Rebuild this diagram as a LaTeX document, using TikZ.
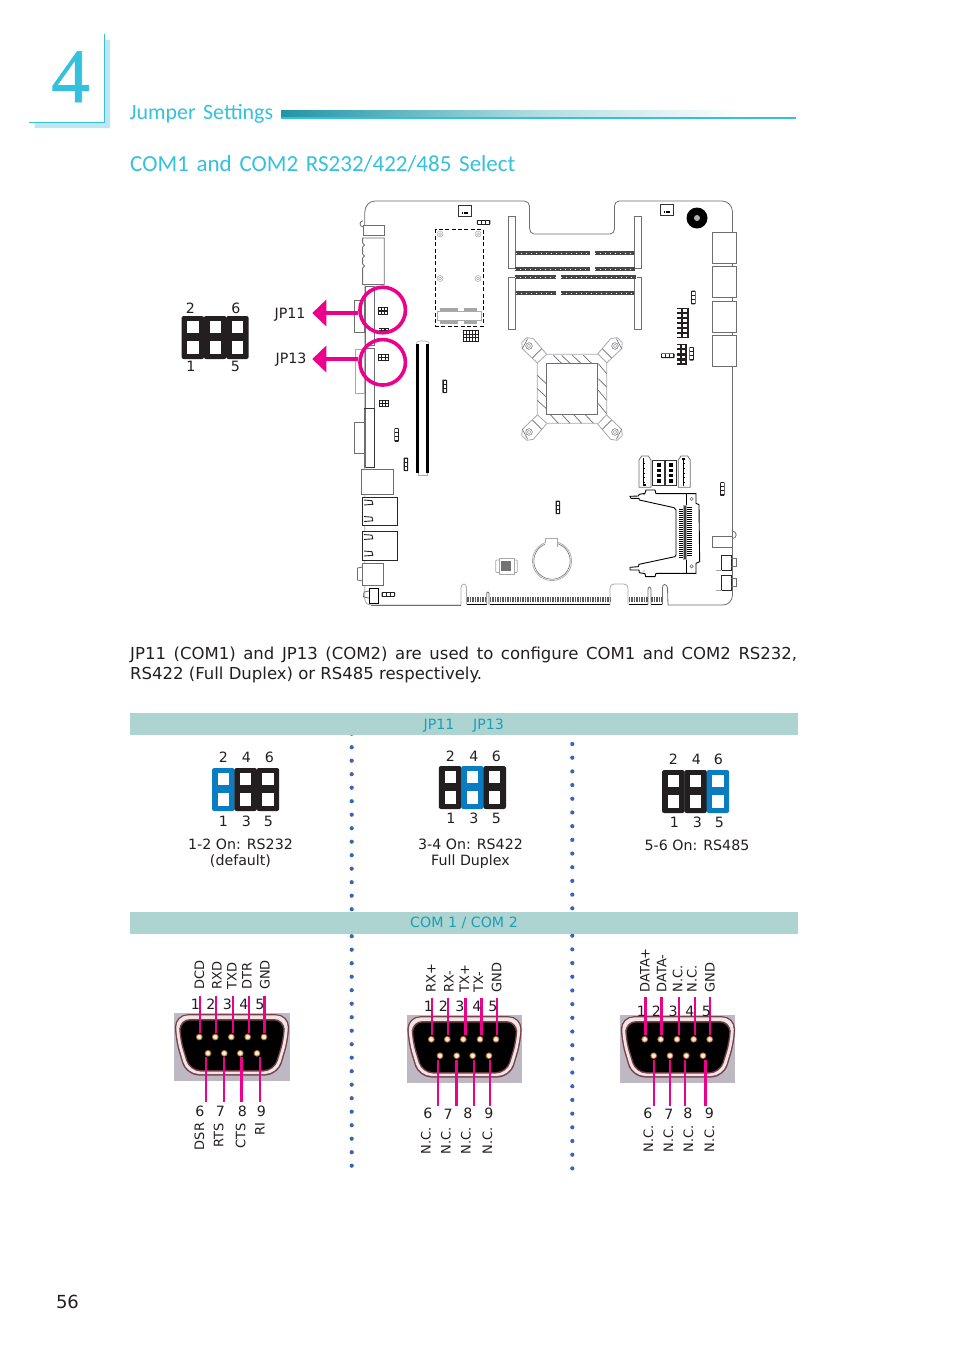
\documentclass[tikz,border=0pt]{standalone}
\usepackage{fontspec}
\setmainfont{DejaVu Sans}
\newfontfamily\gill[WordSpace=1.5]{Carlito}
\newfontfamily\four[FakeBold=0.8]{Liberation Serif}
\usetikzlibrary{arrows.meta}
\definecolor{ink}{HTML}{231F20}
\definecolor{cyanh}{HTML}{33C1DD}
\definecolor{cyanl}{HTML}{BFE6F1}
\definecolor{band}{HTML}{AED4D2}
\definecolor{bandt}{HTML}{1A9FB5}
\definecolor{pk}{HTML}{EC008C}
\definecolor{jblue}{HTML}{0A7DC2}
\definecolor{dotc}{HTML}{3A64B4}
\definecolor{bd}{HTML}{6D6E71}
\definecolor{bl}{HTML}{A7A9AC}
\definecolor{jk}{HTML}{231F20}
\definecolor{dbbg}{HTML}{BDB8C2}
\definecolor{dbrim}{HTML}{7A3F4C}
\definecolor{dblight}{HTML}{EDE6E4}
\tikzset{
 txt/.style={font=\fontsize{14.2}{16}\selectfont,text=ink,inner sep=0pt},
 rot/.style={font=\fontsize{13}{15}\selectfont,text=ink,inner sep=0pt,rotate=90},
 bandtxt/.style={font=\fontsize{14.2}{16}\selectfont,text=bandt,inner sep=0pt},
 pinkline/.style={draw=pk},
 ring/.style={circle,draw=pk,line width=3.6pt,minimum size=45.5pt,inner sep=0pt},
 pkarrow/.style={draw=pk,line width=4pt,-{Triangle[length=14pt,width=26pt]}},
 bo/.style={draw=bd,line width=0.8pt},
 bo2/.style={draw=bl,line width=0.8pt},
}
\newcommand{\jumper}[3]{% x y blue-index
 \foreach \k in {0,1,2}{
  \pgfmathtruncatemacro{\kk}{\k+1}
  \ifnum\kk=#3\def\jc{jblue}\else\def\jc{jk}\fi
  \fill[\jc,rounded corners=2.2pt] ({#1+\k*22.3},#2) rectangle ++(22.6,43);
  \fill[white] ({#1+\k*22.3+5.8},{#2+4.7}) rectangle ++(11.2,12.5);
  \fill[white] ({#1+\k*22.3+5.8},{#2+25.3}) rectangle ++(11.2,12.5);
 }}
\newcommand{\vj}[2]{% vertical 3-cell jumper
 \fill[jk,rounded corners=0.8pt] (#1,#2) rectangle ++(4.6,13.6);
 \foreach \k in {0,1,2}{\fill[white] ({#1+1.1},{#2+1.1+\k*4}) rectangle ++(2.4,3);}}
\newcommand{\hj}[2]{% horizontal 3-cell jumper
 \fill[jk,rounded corners=0.8pt] (#1,#2) rectangle ++(13.6,4.8);
 \foreach \k in {0,1,2}{\fill[white] ({#1+1.1+\k*4},{#2+1.1}) rectangle ++(3,2.6);}}
\newcommand{\grid}[6]{% x y w h cols rows : outlined grid
 \draw[jk,line width=0.9pt,fill=white] (#1,#2) rectangle ++(#3,#4);
 \pgfmathtruncatemacro{\cm}{#5-1}\pgfmathtruncatemacro{\rm}{#6-1}
 \foreach \c in {1,...,\cm}{\draw[jk,line width=0.9pt] ({#1+\c*#3/#5},#2) -- ++(0,#4);}
 \foreach \r in {1,...,\rm}{\draw[jk,line width=0.9pt] (#1,{#2+\r*#4/#6}) -- ++(#3,0);}}
\newcommand{\dgrid}[6]{% x y w h cols rows : black block, small white holes
 \fill[jk] (#1,#2) rectangle ++(#3,#4);
 \foreach \c in {1,...,#5}{\foreach \r in {1,...,#6}{
  \fill[white] ({#1+(\c-0.5)*#3/#5-0.42*#3/#5},{#2+(\r-0.5)*#4/#6-0.3*#4/#6}) rectangle ++({0.6*#3/#5},{0.5*#4/#6});}}}
\newcommand{\hatched}[4]{% x1 x2 y1 y2
 \fill[black!72] (#1,#3) rectangle (#2,#4);
 \draw[white,line width=0.5pt,dash pattern=on 0.6pt off 4.4pt] (#1,{(#3+#4)/2}) -- (#2,{(#3+#4)/2});}
\newcommand{\dbshell}[3]{% x y w
 \begin{scope}[shift={(#1,#2)}]
 \fill[dbbg] (0,0) rectangle (#3,68);
 \fill[dbrim,rounded corners=13pt] (0.7,1.2)--(115.3,1.2)--(115,26)--(104,62.5)--(12,62.5)--(1,26)--cycle;
 \fill[dblight,rounded corners=12pt] (2,2.4)--(114,2.4)--(113.5,26)--(103,61)--(13,61)--(2.5,26)--cycle;
 \fill[dbrim,rounded corners=11pt] (5,6)--(111,6)--(110.5,26)--(100.5,58.5)--(15.5,58.5)--(5.5,26)--cycle;
 \fill[black,rounded corners=10pt] (6.5,7.5)--(109.5,7.5)--(109,26)--(99.5,57)--(16.5,57)--(7,26)--cycle;
 \end{scope}}
\newcommand{\pin}[2]{%
 \fill[brown!80!black] (#1,#2) circle[radius=3.4];
 \fill[white!70!orange] (#1,#2) circle[radius=2.4];
 \fill[white] (#1,#2) circle[radius=1.2];}
\begin{document}
\begin{tikzpicture}[x=1pt,y=-1pt,line cap=butt]
\useasboundingbox (0,0) rectangle (954,1350);
\fill[white] (0,0) rectangle (954,1350);
% ---------- heading
\fill[cyanl] (34.7,122.4) -- (104.8,122.4) -- (104.8,40) -- (110,40) -- (110,128) -- (34.7,128) -- cycle;
\coordinate (fa) at (29,122); \coordinate (fb) at (104.6,122); \coordinate (fc) at (104.6,34);
\draw[cyanh,line width=0.9pt] (fa) -- (fb) -- (fc);
\node[inner sep=0pt,text=cyanh,font=\four\fontsize{77}{80}\selectfont,anchor=base] (chapno) at (70.5,102) {4};
\node[inner sep=0pt,text=cyanh,font=\gill\fontsize{21.9}{26}\selectfont,anchor=base west] (chapt) at (129.5,119) {Jumper Settings};
\shade[left color=black!20!cyanh!80!teal,right color=cyanh!25!band!70!white] (281,110) rectangle (540,117.5);
\shade[left color=cyanh!25!band!70!white,right color=white] (540,110) rectangle (745,117.5);
\fill[cyanh] (281,117.3) rectangle (796,119);
\node[inner sep=0pt,text=cyanh,font=\gill\fontsize{23}{26}\selectfont,anchor=base west] (sect) at (130,171.5) {COM1 and COM2 RS232/422/485 Select};
% ---------- board outline
\draw[bo] (364.8,226) -- (364.8,212) to[out=90,in=180] (375,201) -- (524,201) to[out=0,in=90] (529.5,206) -- (529.5,228) to[out=-90,in=180] (534,234) -- (610,234) to[out=0,in=-90] (614.5,229) -- (614.5,206) to[out=90,in=180] (619,201) -- (722,201) to[out=0,in=90] (732.5,212) -- (732.5,595) to[out=-90,in=0] (723,605) -- (668,605) -- (667.5,588) to[out=90,in=0] (664.5,584.5) to[out=180,in=90] (662.5,588) -- (662.5,604.5);
\draw[bl,line width=0.8pt] (364.8,285) -- (364.8,599) to[out=-90,in=180] (371,605) -- (461,605) -- (461,588) to[out=90,in=180] (464,584) to[out=0,in=90] (466.5,588) -- (466.5,604.5);
\draw[bd,line width=0.9pt] (371,605) -- (461,605);
% right rear connectors
\foreach \y in {232,266.3,301,335.5}{\draw[bo,fill=white] (712.3,\y) rectangle (736.5,{\y+31});}
% top fans etc
\foreach \x/\y in {458/205.5,660/204.5}{
 \draw[black!80,line width=0.9pt,fill=white] (\x,\y) rectangle ++(13.5,10.5);
 \foreach \d in {0,1,2}{\fill[black] ({\x+3.6+\d*2.4},{\y+6}) rectangle ++(1.6,2);}}
\hj{476.8}{220}
\fill[black] (697,218) circle[radius=10.5];
\fill[black!30] (697,218) circle[radius=3];
% dashed module
\draw[black,line width=0.8pt,dash pattern=on 4pt off 2.4pt] (435.7,229.3) rectangle (483.3,326);
\foreach \x/\y in {440/234,440/278.5,478/234,478/278.5}{
 \draw[bl,line width=0.5pt] (\x,\y) circle[radius=3]; \draw[bl,line width=0.5pt] (\x,\y) circle[radius=1.4];}
\draw[bo2] (437,311.5) rectangle (481,320);
\foreach \a/\b in {440/458,464/477}{\fill[black!35] (\a,308) rectangle (\b,311); \fill[black!35] (\a,320.5) rectangle (\b,323.5);}
\grid{463.2}{330.5}{15.4}{11}{5}{3}
% memory slots
\foreach \x in {508.3,634.3}{
 \draw[bo,fill=white] (\x,216) rectangle ++(7.3,52);
 \draw[bo,fill=white] (\x,277.5) rectangle ++(7.3,52);}
\hatched{516}{589.5}{250.7}{255}\hatched{594.5}{634}{250.7}{255}
\hatched{515}{589.5}{266.8}{271}\hatched{594.5}{635}{266.8}{271}
\hatched{514.5}{556}{274.8}{279}\hatched{560.5}{636}{274.8}{279}
\hatched{516}{556}{291}{295.2}\hatched{560.5}{634}{291}{295.2}
% cpu socket
\begin{scope}[shift={(515,332)},x=0.3333pt,y=-0.3333pt]
 \draw[bo2,fill=white,line width=0.8pt] (95,67)--(250,67)--(275,92)--(275,248)--(250,274)--(95,274)--(67,248)--(67,93)--cycle;
 \foreach \sx/\sy in {1/1,-1/1,1/-1,-1/-1}{
  \begin{scope}[shift={(171,171)},xscale=\sx,yscale=\sy,shift={(-171,-171)}]
  \draw[bo2,line width=0.8pt] (67,93)--(22,50)--(20,32)--(35,17)--(55,20)--(95,67);
  \draw[bo,line width=0.6pt] (22,50)--(38,20);
  \draw[bo,line width=0.6pt] (52,78)--(80,50);
  \draw[bo,line width=0.5pt] (42,42) circle[radius=10];
  \draw[bl,line width=0.5pt] (42,42) circle[radius=5.5];
  \end{scope}}
 \foreach \a/\b/\c/\d in {115/70/140/94,140/70/165/94,172/70/198/94,205/70/230/94,67/130/94/155,67/170/94/195,67/205/94/230,250/95/275/125,250/140/275/165,250/175/275/205,250/215/275/245,105/247/130/274,140/247/165/274,175/247/200/274,210/247/235/274}{
  \draw[bd,line width=0.7pt] (\a,\b)--(\c,\d);}
 \draw[bd,fill=white,line width=1pt] (94,94) rectangle (248,247);
\end{scope}
% right block
\vj{691}{290.7}\vj{689.3}{347}
\dgrid{676.7}{308}{12}{30.3}{2}{6}
\dgrid{677}{344}{9.7}{21}{2}{4}
\hj{661}{353.3}
% left rear panel
\draw[bo,fill=white] (363,225.7) rectangle (384.3,235);
\draw[bo] (363,226.8) arc[start angle=90,end angle=270,radius=3];
\draw[bo,fill=white] (362.6,238) -- (384.3,238) -- (384.3,284.5) -- (362.6,284.5) -- (362.6,268) -- (364.5,266) -- (362.6,264) -- (362.6,258) -- (364.5,256) -- (362.6,254) -- (362.6,247) -- (364.5,245) -- (362.6,243) -- cycle;
\draw[bo] (354.3,300.7) rectangle (364.8,332.7);
\draw[bo2] (355,349) rectangle (364.8,393.5);
\draw[bo,line width=1pt,fill=white] (365,286) rectangle (374.5,345);
\draw[bo,line width=1pt,fill=white] (365,348) rectangle (374.5,410);
\draw[bo,fill=white] (354.5,422) rectangle (364,453.5);
\draw[black!80,line width=0.8pt,fill=white] (364,408.5) rectangle (374.5,467.5);
\fill[bd] (364,408.5) rectangle (365.5,467.5);
\draw[bo,fill=white] (361.7,469.4) rectangle (393.3,494);
\foreach \y in {497,531.5}{
 \draw[black!85,line width=0.8pt,fill=white] (362.5,\y) rectangle (397.5,{\y+28.5});
 \foreach \d in {5.5,22}{\draw[black!85,line width=0.9pt] (364,{\y+\d-2.5}) -- (372,{\y+\d-1.8}) -- (372.8,{\y+\d+1.8}) -- (364,{\y+\d+2.5});}}
\draw[bo,fill=white] (362.5,563.5) rectangle (383,585.5);
\draw[bo] (362.5,567) -- (357.5,568) -- (357.5,580) -- (362.5,581);
\draw[black,line width=0.9pt,fill=white] (369.3,588) rectangle (378,603);
\draw[bo] (369,591) -- (364,592) -- (363.5,597) -- (369,598);
\hj{381.5}{592}
% JP blocks
\dgrid{378.4}{307.3}{10}{7.8}{3}{2}
\dgrid{378.6}{328}{10}{5}{3}{2}
\grid{378.8}{354.8}{9.4}{6}{3}{2}
\grid{379.4}{400.4}{9.4}{6}{3}{2}
% pci-e slot
\fill[black] (416,344) rectangle (419.4,472.7);
\fill[black] (426,344) rectangle (429.3,472.7);
\draw[bl,line width=0.6pt] (416,344) to[out=90,in=180] (420,341) -- (425,341) to[out=0,in=90] (429.3,344);
\draw[bl,line width=0.6pt] (418,472.7) -- (418,475) -- (427.5,475) -- (427.5,472.7);
\vj{442.4}{379.5}\vj{394.3}{428.2}\vj{403.6}{457.5}\vj{555.5}{500.6}\vj{720}{482.2}
% lower right headers
\begin{scope}[shift={(530,400)},x=0.3333pt,y=-0.3333pt]
 \foreach \a in {327,445}{
  \draw[bo,fill=white,line width=0.8pt] (\a,180)--({\a+8},168)--({\a+28},168)--({\a+36},180)--({\a+36},262)--(\a,262)--cycle;}
 \fill[black] (339,175) rectangle (341.5,258);
 \fill[black] (339,252) rectangle (348,258);
 \fill[black] (459,175) rectangle (461.5,258);
 \fill[black] (457,175) rectangle (466,181);
 \foreach \b in {190,204,218,232,246}{\fill[black] (341,\b) rectangle (346,{\b+3});\fill[black] (461,\b) rectangle (466,{\b+3});}
 \foreach \a in {368,405}{
  \draw[black!80,line width=0.8pt,fill=white] (\a,190) -- (\a,182) -- ({\a+34},182) -- ({\a+34},190);
  \draw[black!80,line width=0.8pt] (\a,190) -- (\a,255) -- ({\a+34},255) -- ({\a+34},190);
  \foreach \b in {190,206,222,238}{\fill[black] ({\a+13},\b) rectangle ({\a+24},{\b+10});}
 }
 % CF slot
 \draw[black,line width=0.9pt,fill=white] (300,289)--(325,288)--(328,283)--(345,280)--(348,270)--(375,270)--(378,281)--(498,281)--(498,310)--(507,314)--(509,485)--(498,490)--(498,520)--(378,520)--(375,530)--(347,530)--(345,521)--(328,518)--(327,510)--(300,510)--(300,502)--(325,500)--(327,493)--(435,470)--(438,465)--(438,330)--(432,323)--(328,300)--(327,295)--(303,295)--cycle;
 \draw[black,line width=0.9pt] (470,281)--(470,520);
 \draw[bo,line width=0.6pt] (485,297) circle[radius=5]; \draw[bo,line width=0.6pt] (485,499) circle[radius=5];
 \fill[black!75] (460,315) rectangle (470,478);
 \draw[bo2,line width=0.7pt] (460,315) rectangle (470,478);
 \foreach \k in {0,...,24}{\draw[black,line width=0.8pt] (447,{328+\k*6}) -- (460,{328+\k*6}); \draw[black,line width=0.8pt] (470,{322+\k*6}) -- (485,{322+\k*6});}
 \fill[black!70] (342,284) circle[radius=2]; \fill[black!70] (342,513) circle[radius=2];
\end{scope}
% battery, chip
\draw[bl,line width=0.7pt,fill=white] (552,561) circle[radius=19.6];
\draw[bo,line width=0.6pt] (552,561) circle[radius=18.2];
\draw[bl,line width=0.7pt,fill=white] (545,547) -- (545,538) -- (557,538) -- (557,547);
\fill[white] (545.4,543) rectangle (556.6,549);
\draw[bl,line width=0.7pt,fill=white,rounded corners=1pt] (495.7,560) rectangle (517.3,572.5);
\draw[bl,line width=0.6pt,fill=white] (499,558) rectangle (514,574.5);
\fill[black!55] (501,561) rectangle (511,571);
% bottom slots
\foreach \a/\b in {467/486.5,489.5/610,628.5/648,651/662}{
 \draw[black!65,line width=5.6pt,dash pattern=on 1.5pt off 1pt] (\a,599.6) -- (\b,599.6);
 \draw[black,line width=0.9pt] (\a,604.6) -- (\b,604.6);}
\draw[bl,line width=0.8pt] (610,604.5) -- (610,588) to[out=90,in=180] (614,584) -- (624,584) to[out=0,in=90] (628,588) -- (628,604.5);
\draw[bd,line width=0.8pt] (648,604.5) -- (648,590) to[out=90,in=180] (649.5,587) to[out=0,in=90] (651,590) -- (651,604.5);
\draw[bd,line width=0.8pt] (486.7,604.5) -- (486.7,594) to[out=90,in=180] (487.9,592) to[out=0,in=90] (489,594) -- (489,604.5);
% right edge bottom
\draw[bo,fill=white] (712.3,536.7) rectangle (732.5,547.7);
\draw[bo] (732.5,538.5) arc[start angle=90,end angle=-90,radius=3.7];
\foreach \y in {555.5,575.5}{
 \draw[black!85,line width=0.9pt] (721.7,\y) -- (721.7,{\y+15}) -- (731,{\y+15}) -- (731,\y) -- cycle;
 \draw[bo] (731,{\y+3}) -- (736,{\y+3}) -- (736,{\y+11}) -- (731,{\y+11});
 \draw[bl] (716,{\y+15}) -- (721.7,{\y+15});}
% ---------- rings and arrows
\node[ring] (ringa) at (382.7,310) {};
\node[ring] (ringb) at (382.7,362.3) {};
\coordinate (tipa) at (312.3,313);
\coordinate (tipb) at (312.3,359);
\draw[pkarrow] (ringa.west |- tipa) -- (tipa);
\draw[pkarrow] (ringb.west |- tipb) -- (tipb);
\node[txt] (jp11) at (290,314.5) {JP11};
\node[txt] (jp13) at (291,360) {JP13};
% legend jumper
\jumper{181.5}{316}{0}
\node[txt] (ld2) at (190.5,308.5) {2};
\node[txt] (ld6) at (236,308.5) {6};
\node[txt] (ld1) at (191,366.5) {1};
\node[txt] (ld5) at (235.5,366.5) {5};
% ---------- paragraph
\node[inner sep=0pt,anchor=base west,text=ink,font=\fontsize{16.5}{18}\selectfont] (para1) at (130,659) {\makebox[667pt][s]{JP11 (COM1) and JP13 (COM2) are used to configure COM1 and COM2 RS232,}};
\node[inner sep=0pt,anchor=base west,text=ink,font=\fontsize{16.5}{18}\selectfont] (para2) at (130,679) {RS422 (Full Duplex) or RS485 respectively.};
% ---------- dotted separators
\foreach \k in {0,...,32}{\fill[dotc] (351.7,{733.7+\k*13.5}) circle[radius=2.1];}
\foreach \k in {0,...,31}{\fill[dotc] (572.3,{744+\k*13.69}) circle[radius=2.1];}
% ---------- bands
\fill[band] (130,713) rectangle (798,735);
\fill[band] (130,912) rectangle (798,934);
\node[bandtxt] (b1a) at (439,725.5) {JP11};
\node[bandtxt] (b1b) at (488.5,725.5) {JP13};
\node[bandtxt] (b2) at (464,922.5) {COM 1 / COM 2};
% ---------- jumper settings
\jumper{212}{768}{1}
\jumper{438.8}{766}{2}
\jumper{662}{770}{3}
\foreach \t/\x/\y/\n in {2/223.5/757/a,4/246.5/757/b,6/269.5/757/c,1/223.5/821/d,3/246.5/821/e,5/268.5/821/f,
 2/450.5/756/g,4/474/756/h,6/496.5/756/i,1/451/818/j,3/474/818/k,5/496.5/818/l,
 2/673.5/759/m,4/696.5/759/n,6/718.5/759/o,1/674.5/822/p,3/697.5/822/q,5/719.5/822/r}{
 \node[txt] (dig\n) at (\x,\y) {\t};}
\node[txt] (c1a) at (240.5,844) {1-2 On: RS232};
\node[txt] (c1b) at (240.5,861) {(default)};
\node[txt] (c2a) at (470.5,844) {3-4 On: RS422};
\node[txt] (c2b) at (470.5,861.5) {Full Duplex};
\node[txt] (c3a) at (697,845) {5-6 On: RS485};
% ---------- DB9 connectors
\dbshell{174}{1013}{116}
\dbshell{406.5}{1015}{115.5}
\dbshell{620}{1015}{115}
\foreach \x in {199.3,215.3,231.3,247.7,264}{\pin{\x}{1037}}
\foreach \x in {208,224.3,240.3,257}{\pin{\x}{1053.3}}
\foreach \x in {431.3,447.3,463.3,480,496}{\pin{\x}{1039.3}}
\foreach \x in {440,456.7,472.7,489}{\pin{\x}{1055.7}}
\foreach \x in {644.7,660.7,677,693.7,709.7}{\pin{\x}{1039.3}}
\foreach \x in {653.7,670,686.3,703}{\pin{\x}{1055.7}}
% lines: name/x/y1/y2/width
\foreach \n/\x/\ya/\yb/\w in {
 a1/199.7/996/1032.7/2,a2/215.7/996/1032.7/2,a3/232.7/996/1032.7/2,a4/249/996/1032.7/2,a5/264.3/996/1032.7/3,
 a6/206/1057.3/1102.3/2,a7/224/1057.3/1102.3/2,a8/241.3/1057.3/1102.3/3,a9/259.7/1057.3/1102.3/2,
 b1/432/998/1035/2,b2/448/998/1035/2,b3/465.3/998/1035/3,b4/481.7/998/1035/3,b5/497/998/1035/2,
 b6/438/1060/1105.7/2,b7/456.3/1060/1105.7/3,b8/474/1060/1105.7/2,b9/490/1060/1105.7/2,
 c1/645.7/997.3/1035/3,c2/661.7/997.3/1035/3,c3/679/997.3/1035/2,c4/695/997.3/1035/2,c5/710/997.3/1035/2,
 c6/654/1060/1105.7/2,c7/670/1060/1105.7/2,c8/684.7/1060/1105.7/2,c9/705.7/1060/1105.7/3}{
 \coordinate (\n s) at (\x,\ya);
 \coordinate (\n e) at (\x,\yb);
 \draw[pinkline,line width=\w pt] (\n s) -- (\n e);}
% digits
\foreach \t/\x/\y/\n in {
 1/195.5/1004/a,2/211/1004/b,3/227.5/1004/c,4/243.8/1004/d,5/259.8/1004/e,6/200/1111/f,7/220.5/1111/g,8/242.5/1111/h,9/261.5/1111/i,
 1/428.5/1006.7/j,2/443.5/1006.7/k,3/459.8/1006.7/l,4/476.8/1006.7/m,5/492.8/1006.7/n,6/427.8/1113/o,7/448.2/1114/p,8/468/1113/q,9/489/1113/r,
 1/641.5/1011/s,2/656.5/1011/t,3/673.2/1011/u,4/689.8/1011/v,5/706.5/1011/w,6/648/1113.3/x,7/668.8/1114/y,8/688/1113.3/z,9/709.5/1113.3/zz}{
 \node[txt] (pd\n) at (\x,\y) {\t};}
% rotated labels above (anchor west = reading start at the bottom)
\foreach \t/\x/\y/\n in {DCD/199.3/990/a,RXD/217/990/b,TXD/232/990/c,DTR/247/990/d,GND/265/990/e,
 RX+/431/992.7/f,RX-/449/992.7/g,TX+/464.3/992.7/h,TX-/478.3/992.7/i,GND/496.7/992.7/j,
 DATA+/645/992.7/k,DATA-/661.7/992.7/l,N.C./677.7/992.7/m,N.C./692/992.7/n,GND/710/992.7/o}{
 \node[rot,anchor=west] (up\n) at (\x,\y) {\t};}
% rotated labels below (anchor east = reading end at the top)
\foreach \t/\x/\y/\n in {DSR/199.3/1122.7/a,RTS/218.7/1122.7/b,CTS/240.7/1122.7/c,RI/260/1122.7/d,
 N.C./426/1127/e,N.C./446/1127/f,N.C./466/1127/g,N.C./487.3/1127/h,
 N.C./648.3/1125/i,N.C./668.3/1125/j,N.C./688.3/1125/k,N.C./709.3/1125/l}{
 \node[rot,anchor=east] (dn\n) at (\x,\y) {\t};}
% page number
\node[inner sep=0pt,text=ink,font=\fontsize{18}{20}\selectfont] (page) at (67.5,1301.5) {56};
\end{tikzpicture}
\end{document}
